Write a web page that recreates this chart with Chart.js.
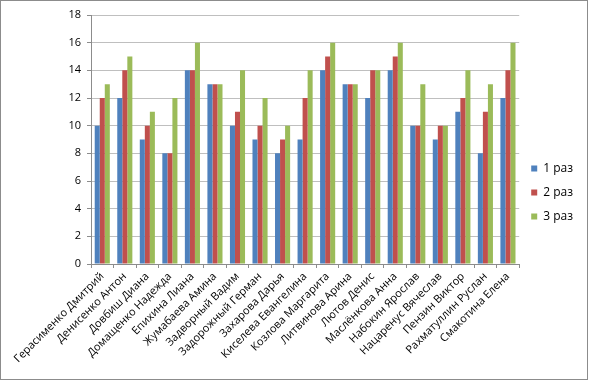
<!DOCTYPE html>
<html>
<head>
<meta charset="utf-8">
<script src="https://cdn.jsdelivr.net/npm/chart.js@4.4.1/dist/chart.umd.min.js"></script>
<style>
  html, body { margin: 0; padding: 0; background: #fff; }
  #wrap { width: 592px; height: 384px; position: relative; }
</style>
</head>
<body>
<div id="wrap"><canvas id="c" width="592" height="384"></canvas></div>
<script>
const categories = [
  "Герасименко Дмитрий", "Денисенко Антон", "Довбиш Диана", "Домащенко Надежда",
  "Епихина Лиана", "Жумабаева Амина", "Задворный Вадим", "Задорожный Герман",
  "Захарова Дарья", "Киселева Евангелина", "Козлова Маргарита", "Литвинова Арина",
  "Лютов Денис", "Маслёнкова Анна", "Набокин Ярослав", "Нацаренус Вячеслав",
  "Пензин Виктор", "Рахматуллин Руслан", "Смакотина Елена"
];
const seriesNames = ["1 раз", "2 раз", "3 раз"];
const series1 = [10, 12, 9, 8, 14, 13, 10, 9, 8, 9, 14, 13, 12, 14, 10, 9, 11, 8, 12];
const series2 = [12, 14, 10, 8, 14, 13, 11, 10, 9, 12, 15, 13, 14, 15, 10, 10, 12, 11, 14];
const series3 = [13, 15, 11, 12, 16, 13, 14, 12, 10, 14, 16, 13, 14, 16, 13, 10, 14, 13, 16];
const yTicks = [0, 2, 4, 6, 8, 10, 12, 14, 16, 18];

const colors = ["#4F81BD", "#C0504D", "#9BBB59"];
const FONT = "'Open Sans', sans-serif";

const frame = {
  id: 'frame',
  beforeDraw(chart) {
    const ctx = chart.ctx;
    ctx.save();
    ctx.fillStyle = '#fff';
    ctx.fillRect(0, 0, chart.width, chart.height);
    ctx.strokeStyle = '#8c8c8c';
    ctx.lineWidth = 1;
    ctx.strokeRect(0.5, 0.5, 587, 379);
    ctx.restore();
  }
};

new Chart(document.getElementById('c'), {
  type: 'bar',
  data: {
    labels: categories,
    datasets: [series1, series2, series3].map((d, i) => ({
      label: seriesNames[i],
      data: d,
      backgroundColor: colors[i],
      borderWidth: 0,
      barPercentage: 1.0,
      categoryPercentage: 0.67
    }))
  },
  options: {
    responsive: false,
    animation: false,
    devicePixelRatio: 1,
    layout: { padding: { top: 15, left: 0, right: 9, bottom: 14 } },
    plugins: {
      tooltip: { enabled: false },
      legend: {
        position: 'right',
        labels: {
          boxWidth: 6,
          boxHeight: 6,
          padding: 12,
          color: '#000',
          font: { family: FONT, size: 12 }
        }
      }
    },
    scales: {
      x: {
        offset: true,
        grid: {
          offset: true,
          drawOnChartArea: false,
          drawTicks: true,
          tickLength: 4,
          color: '#8c8c8c'
        },
        border: { color: '#8c8c8c' },
        ticks: {
          autoSkip: false,
          minRotation: 45,
          maxRotation: 45,
          color: '#000',
          padding: 2,
          font: { family: FONT, size: 11 }
        },
        afterFit(scale) { scale.height = 106; }
      },
      y: {
        min: 0,
        max: 18,
        afterBuildTicks(scale) { scale.ticks = yTicks.map(v => ({ value: v })); },
        grid: {
          color: '#bfbfbf',
          tickLength: 4,
          tickColor: '#8c8c8c'
        },
        border: { color: '#8c8c8c' },
        ticks: {
          color: '#000',
          padding: 6,
          font: { family: FONT, size: 11 }
        },
        afterFit(scale) { scale.width = 91; }
      }
    }
  },
  plugins: [frame]
});
</script>
</body>
</html>
